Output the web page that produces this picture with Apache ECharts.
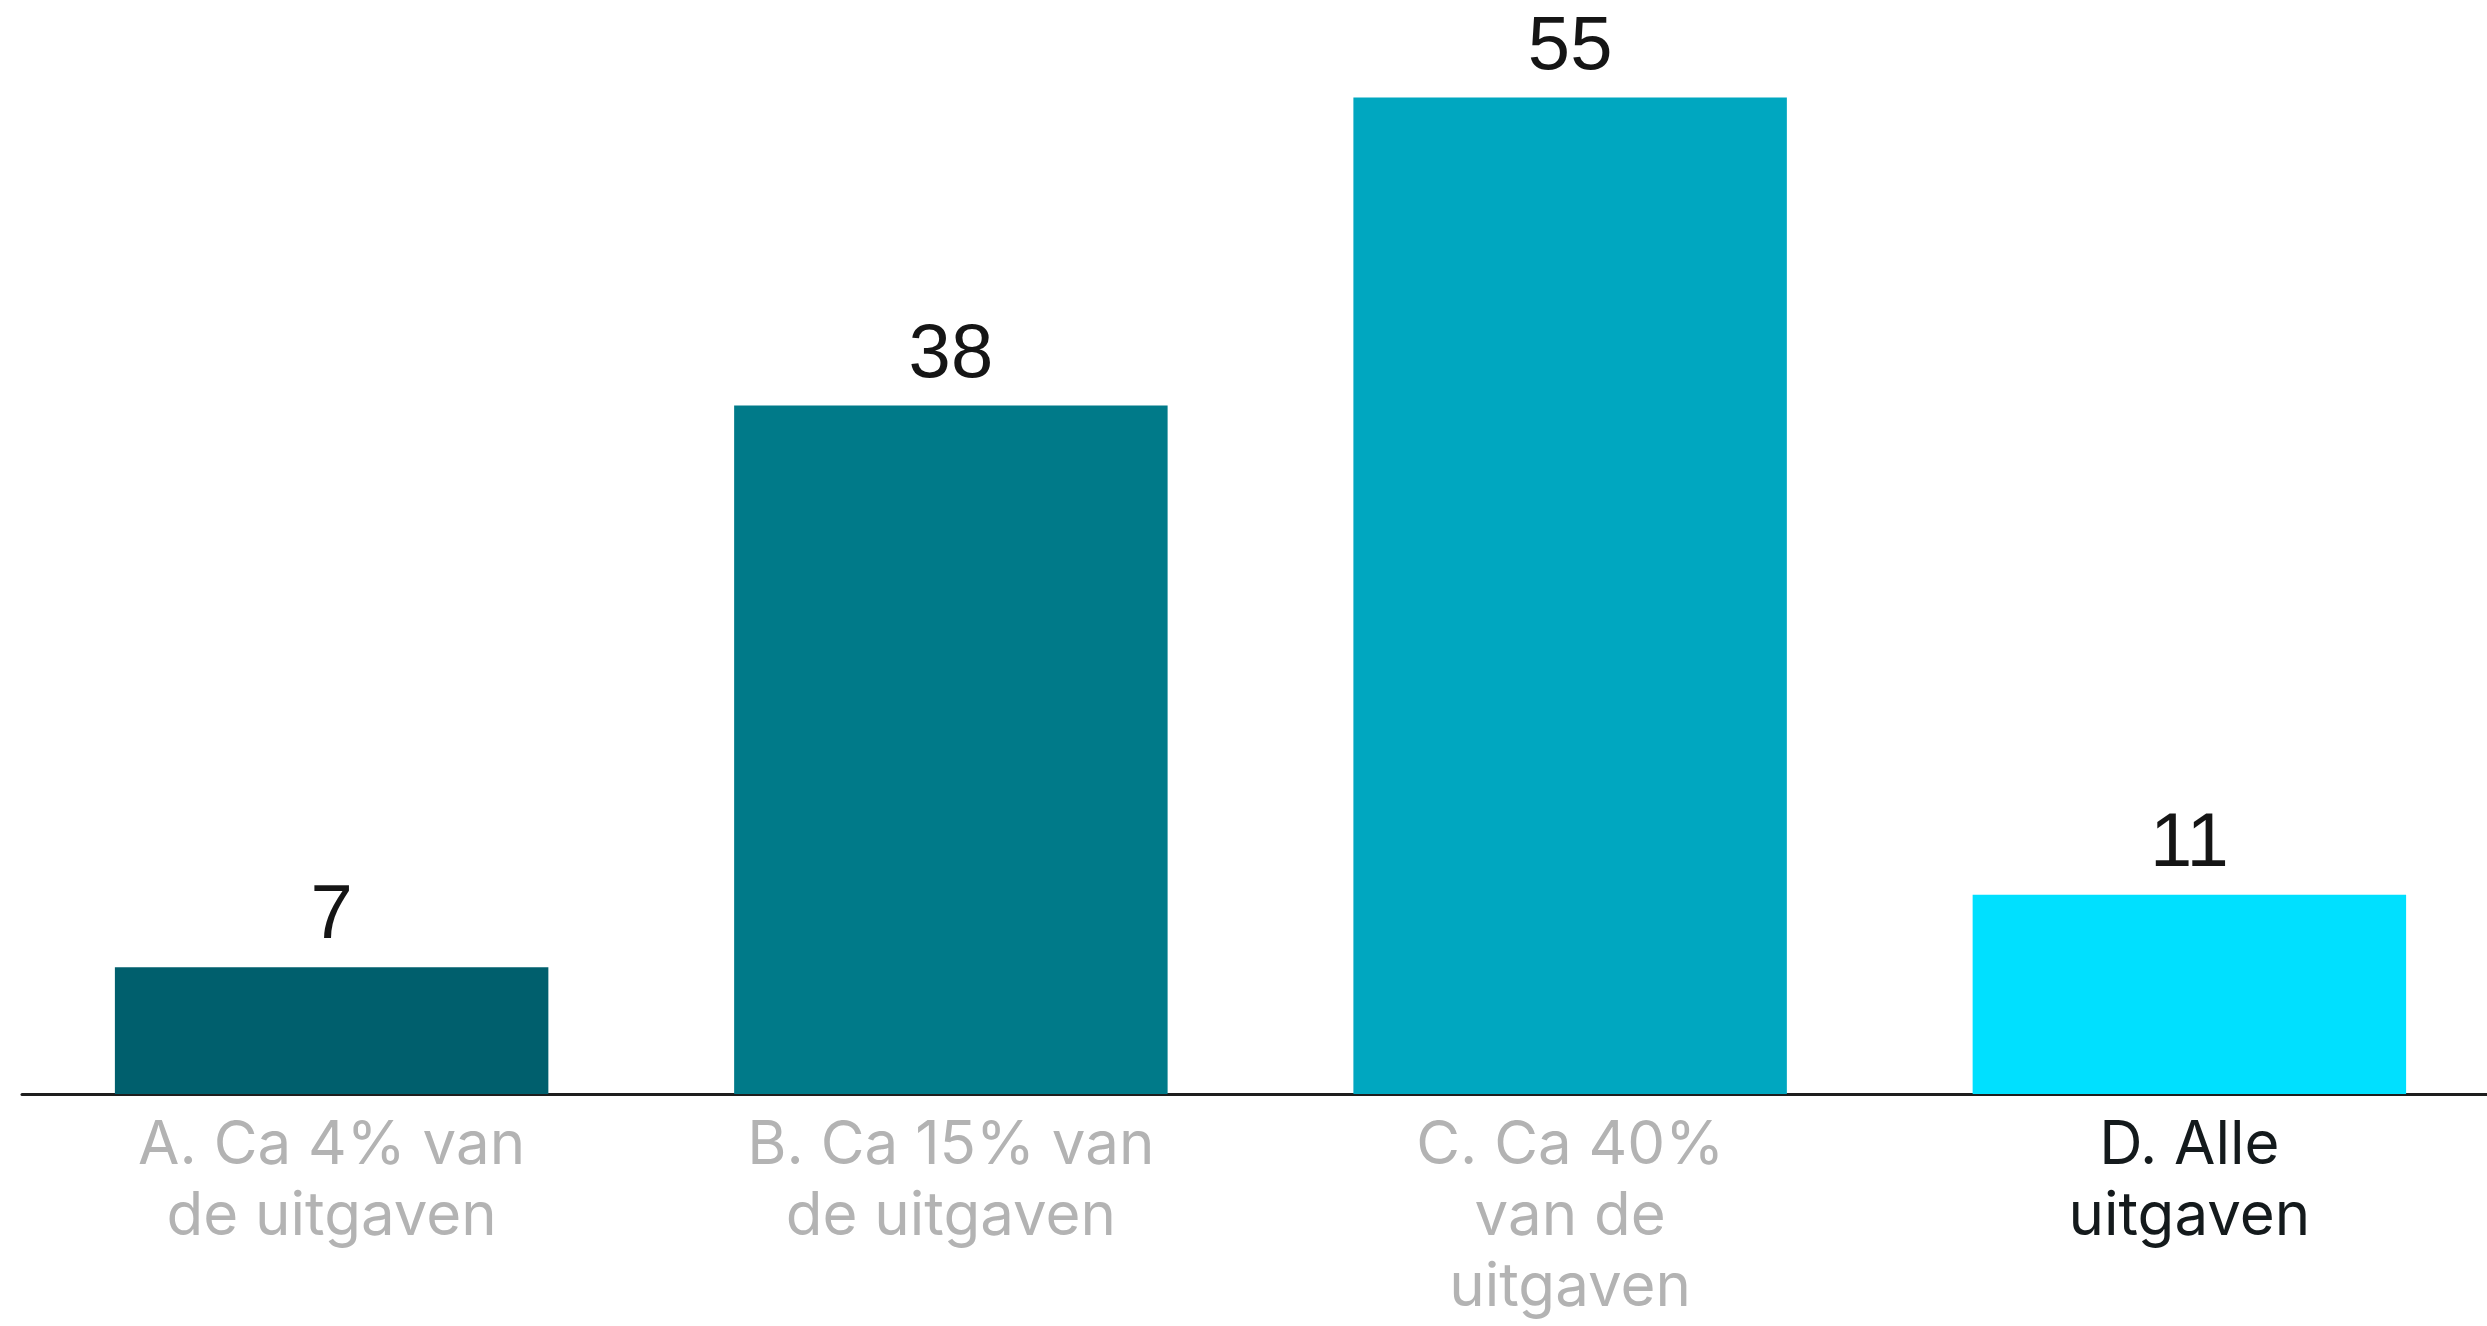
<!DOCTYPE html>
<html>
<head>
<meta charset="utf-8">
<title>Uitgaven</title>
<style type="text/css">
    *{ margin:0; padding:0; }
    html,body{ width:100%; height:100%; background:#ffffff; overflow:hidden; }
    /* a bit wider than the window: the last bar's slot runs past the right edge */
    #main{ width:2510px; height:1326px; }
</style>
</head>
<body>
<div id="main"></div>
<script src="https://cdn.jsdelivr.net/npm/echarts@6/dist/echarts.min.js"></script>
<script type="text/javascript">
    // data
    var categories = ['A. Ca 4% van\nde uitgaven', 'B. Ca 15% van\nde uitgaven', 'C. Ca 40%\nvan de\nuitgaven', 'D. Alle\nuitgaven'];
    var values = [7, 38, 55, 11];
    var barColors = ['#005f6d', '#007a89', '#00a7c0', '#00e0ff'];
    var labelColors = ['#b3b3b3', '#b3b3b3', '#b3b3b3', '#141a1c'];

    var myChart = echarts.init(document.getElementById('main'));

    var option = {
        backgroundColor: '#ffffff',
        animation: false,
        grid: { left: 22, top: 7, width: 2477, height: 1087 },
        xAxis: {
            type: 'category',
            data: categories,
            axisTick: { show: false },
            axisLine: { lineStyle: { color: '#1e1e1e', width: 3 } },
            axisLabel: {
                interval: 0,
                margin: 16,
                fontFamily: 'Inter',
                fontSize: 60,
                lineHeight: 71,
                color: function (v, i) { return labelColors[i]; }
            }
        },
        yAxis: {
            type: 'value',
            min: 0,
            max: 60,
            show: false,
            splitLine: { show: false }
        },
        series: [{
            type: 'bar',
            barCategoryGap: '30%',
            data: values.map(function (v, i) {
                return { value: v, itemStyle: { color: barColors[i] } };
            }),
            label: {
                show: true,
                position: 'top',
                distance: 12,
                fontFamily: 'Liberation Sans',
                fontSize: 76,
                color: '#151515'
            }
        }]
    };
    myChart.setOption(option);
</script>
</body>
</html>
